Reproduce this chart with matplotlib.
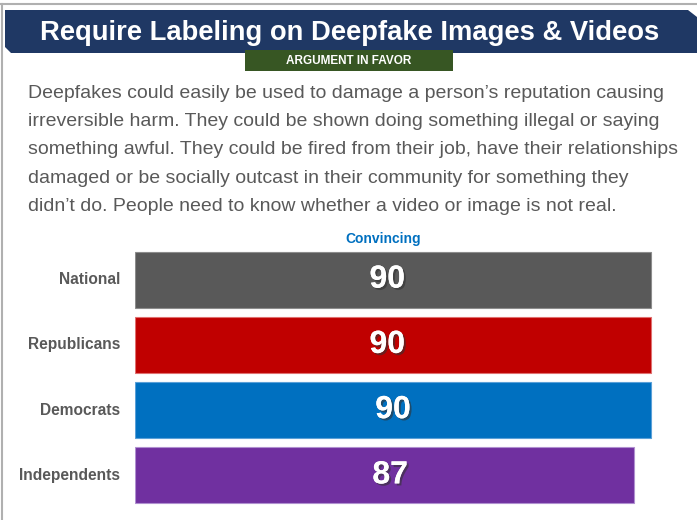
import matplotlib.pyplot as plt
import matplotlib.patheffects as pe
from matplotlib.patches import Polygon, Rectangle

groups = ["National", "Republicans", "Democrats", "Independents"]
convincing = [90, 90, 90, 87]
colors = ["#595959", "#C00000", "#0070C0", "#7030A0"]
edges = ["#8c8c8c", "#e07070", "#5aa0d8", "#b090d0"]

title = "Require Labeling on Deepfake Images & Videos"
subtitle = "ARGUMENT IN FAVOR"
argument = ("Deepfakes could easily be used to damage a person\u2019s reputation causing\n"
            "irreversible harm. They could be shown doing something illegal or saying\n"
            "something awful. They could be fired from their job, have their relationships\n"
            "damaged or be socially outcast in their community for something they\n"
            "didn\u2019t do. People need to know whether a video or image is not real.")

W, H = 697, 520
fig = plt.figure(figsize=(W / 100, H / 100), dpi=100)

def fx(x):
    return x / W

def fy(y):
    return 1 - y / H

# frame lines
fig.add_artist(plt.Line2D([0, 1], [fy(4), fy(4)], color="#b0b0b0", lw=1.5))
fig.add_artist(plt.Line2D([fx(2), fx(2)], [fy(4), 0], color="#b0b0b0", lw=1.5))

# title banner with clipped corners
banner = [(5, 10), (688, 10), (697, 17), (697, 53), (11, 53), (5, 47)]
fig.add_artist(Polygon([(fx(x), fy(y)) for x, y in banner], closed=True,
                       facecolor="#1F3864", edgecolor="none", transform=fig.transFigure))
fig.text(fx(350), fy(33), title, color="white", fontsize=19.7, fontweight="bold",
         family="Liberation Sans", ha="center", va="center")

# green sub banner
fig.add_artist(Rectangle((fx(245), fy(71)), fx(453) - fx(245), fy(50) - fy(71),
                         facecolor="#375623", edgecolor="none", transform=fig.transFigure))
fig.text(fx(349), fy(61), subtitle, color="white", fontsize=8.5, fontweight="bold",
         family="Liberation Sans", ha="center", va="center")

# argument paragraph
fig.text(fx(28), fy(85), argument, color="#595959", fontsize=14, family="Liberation Sans",
         ha="left", va="top", linespacing=1.86)

# bars
ax = fig.add_axes([fx(135), fy(508), (W - 135) / W, (508 - 247) / H])
ypos = list(range(len(groups)))
ax.barh(ypos, convincing, height=0.857, color=colors, edgecolor=edges, linewidth=0.8)
ax.set_xlim(0, 98)
ax.set_ylim(3.5, -0.5)
ax.axis("off")

shadow = [pe.withSimplePatchShadow(offset=(1.5, -1.5), shadow_rgbFace="#333333", alpha=0.6),
          pe.Normal()]
label_x = [44, 44, 45, 44.5]
for i, v in enumerate(convincing):
    ax.text(label_x[i], i, str(v), color="white", fontsize=23, fontweight="bold",
            family="Liberation Sans", ha="center", va="center",
            path_effects=shadow)
    fig.text(fx(120), ax.transData.transform((0, i))[1] / H, groups[i], color="#595959",
             fontsize=11.2, fontweight="bold", family="Liberation Sans",
             ha="right", va="center")

fig.text(fx(383), fy(239), "Convincing", color="#0070C0", fontsize=10, fontweight="bold",
         family="Liberation Sans", ha="center", va="center")

fig.savefig("out.png", dpi=100)
